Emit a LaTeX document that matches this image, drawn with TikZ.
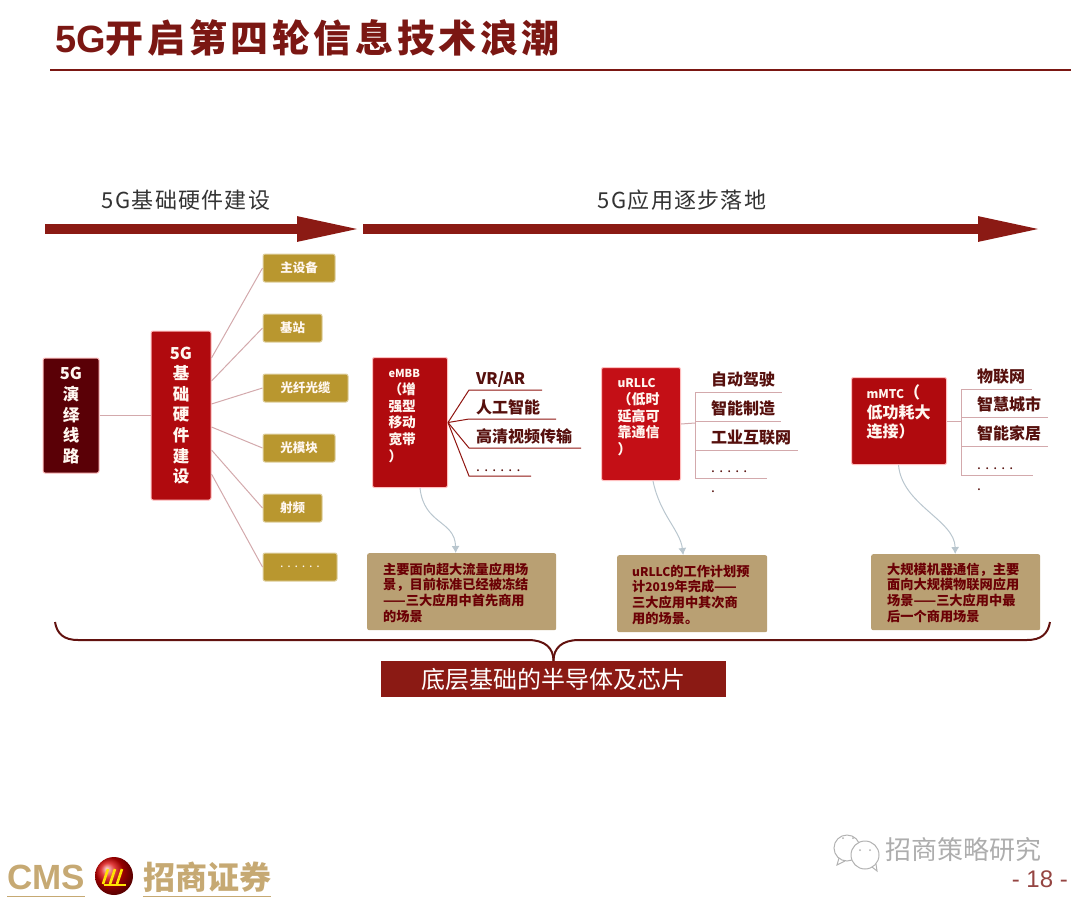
\documentclass[tikz,border=0pt]{standalone}
\usepackage{fontspec}
\setmainfont{Noto Sans CJK SC}
\newfontfamily\titlefont{Noto Sans CJK SC}[LetterSpace=9.5]
\newfontfamily\headfont{Noto Sans CJK SC}[LetterSpace=6]
\newfontfamily\arialfont{Liberation Sans}
\usetikzlibrary{positioning,arrows.meta}
\definecolor{darkred}{HTML}{7B1713}
\definecolor{arrowred}{HTML}{8B1A14}
\definecolor{wine}{HTML}{5A0006}
\definecolor{boxred}{HTML}{B00A0E}
\definecolor{brightred}{HTML}{C40F16}
\definecolor{gold}{HTML}{B9972F}
\definecolor{tan}{HTML}{B9A073}
\definecolor{logotan}{HTML}{C6A973}
\definecolor{linkpink}{HTML}{D3A9AC}
\definecolor{curvblue}{HTML}{B9C6CE}
\newcommand{\fs}[2]{\fontsize{#1}{#2}\selectfont}
\newcommand{\dotrow}[1]{\raisebox{-1.5pt}{\fs{14}{16}\mdseries #1}}

\begin{document}
\begin{tikzpicture}[x=1pt,y=-1pt,
  bigarr/.style={draw=arrowred, line width=10pt, -{Triangle[length=66pt,width=22.5pt]}},
  head/.style={font=\headfont\fs{22}{24}, text=black!80},
  box/.style={draw=red!25, line width=1pt, rounded corners=2pt, inner sep=0pt, text=white!94!orange},
  vbox/.style={box, align=center, font=\bfseries\fs{16.5}{20.6}},
  tagbox/.style={box, fill=boxred, align=left, font=\bfseries\fs{13.7}{16.8}, anchor=north west, inner xsep=16pt, inner ysep=7pt},
  goldbox/.style={box, fill=gold, minimum height=28pt, font=\bfseries\fs{12.5}{14}, draw=gold!45},
  notebox/.style={fill=tan, rounded corners=2pt, inner xsep=16pt, inner ysep=8pt, text height=13pt, text=wine!90!red, align=left,
                  font=\bfseries\fs{13.2}{15.6}, anchor=north west},
  item/.style={font=\bfseries\fs{16}{18}, text=darkred!70!black, text height=12pt, text depth=2pt,
               inner sep=0pt, anchor=west},
  link/.style={draw=linkpink, line width=1pt},
  fork/.style={draw=linkpink, line width=1pt},
  curv/.style={draw=curvblue, line width=1pt, -{Latex[length=7pt,width=8pt]}},
  brace/.style={draw=darkred!80!black, line width=2pt}]
\useasboundingbox (0,0) rectangle (1080,898);

\node[anchor=west, font=\bfseries\fs{38}{40}\titlefont, text=darkred, inner sep=0pt] (title) at (55,38)
  {{\arialfont\bfseries 5G}开启第四轮信息技术浪潮};
\coordinate (ruleL) at (50,70);
\coordinate (ruleR) at (1071,70);
\draw[darkred, line width=1.6pt] (ruleL) -- (ruleR);

\coordinate (arrA) at (45,229);
\coordinate (arrB) at (363,229);
\coordinate (arrC) at (363,229);
\coordinate (arrD) at (1044,229);
\draw[bigarr] (arrA) -- (arrB);
\draw[bigarr] (arrC) -- (arrD);
\node[head] (hardhead) at (186,200) {5G基础硬件建设};
\node[head] (apphead) at (682,200) {5G应用逐步落地};

\node[vbox, fill=wine, minimum width=56pt, minimum height=115pt] (road) at (71,415.5)
  {5G\\演\\绎\\线\\路};
\node[vbox, fill=boxred, minimum width=60pt, minimum height=169pt, right=51pt of road] (hard)
  {5G\\基\\础\\硬\\件\\建\\设};
\draw[link] (road) -- (hard);

\node[goldbox, minimum width=72pt] (gear) at (299,268) {主设备};
\node[goldbox, minimum width=59pt, below=31pt of gear.south west, anchor=north west] (station) {基站};
\node[goldbox, minimum width=85pt, below=31pt of station.south west, anchor=north west] (fiber) {光纤光缆};
\node[goldbox, minimum width=72pt, below=31pt of fiber.south west, anchor=north west] (module) {光模块};
\node[goldbox, minimum width=59pt, below=31pt of module.south west, anchor=north west] (radio) {射频};
\node[goldbox, minimum width=74pt, below=30pt of radio.south west, anchor=north west] (more) {\mdseries . . . . . .};
\draw[link] (hard.east |- 0,358) -- (gear.west);
\draw[link] (hard.east |- 0,381) -- (station.west);
\draw[link] (hard.east |- 0,404) -- (fiber.west);
\draw[link] (hard.east |- 0,427) -- (module.west);
\draw[link] (hard.east |- 0,450) -- (radio.west);
\draw[link] (hard.east |- 0,474) -- (more.west);

\node[tagbox, text width=43pt, text height=13pt, text depth=103pt] (embb) at (372,357)
  {{\fs{11}{16.8}eMBB}\\（增\\强型\\移动\\宽带\\）};
\foreach \nm/\yy/\xe/\txt in {vr/390/542/{VR/AR},ai/419/556/人工智能,hd/448/581/高清视频传输,edots/476/531/{\dotrow{. . . . . .}}}{
  \node[item] (\nm) at (476,\yy-11) {\txt};
  \coordinate (\nm e) at (\xe,\yy);
  \coordinate (\nm k) at (469,\yy);
  \draw[draw=darkred!85!red, line width=1pt] (embb.east) -- (\nm k) -- (\nm e);
}

\node[tagbox, fill=brightred, text width=47pt, text height=13pt, text depth=86pt, font=\bfseries\fs{14}{16.8}] (urllc) at (601,367)
  {{\fs{12}{16.8}uRLLC}\\（低时\\延高可\\靠通信\\）};
\coordinate (ufork) at (695,423);
\draw[fork] (urllc.east) -- (ufork);
\foreach \nm/\yy/\xe/\txt in {drive/392/782/自动驾驶,make/421/781/智能制造,net/450/798/工业互联网,udots/478/767/{\dotrow{. . . . .}}}{
  \node[item] (\nm) at (711,\yy-12) {\txt};
  \coordinate (\nm e) at (\xe,\yy);
  \draw[fork] (ufork |- \nm e) -- (\nm e);
}
\draw[fork] (ufork |- drivee) -- (ufork |- udotse);
\node[item] (udot) at (711,486) {\dotrow{.}};

\node[tagbox, text width=65pt, inner xsep=15pt, text height=14pt, text depth=59pt, font=\bfseries\fs{16}{19.5}] (mmtc) at (851,377)
  {{\fs{12}{19.5}mMTC}（\\低功耗大\\连接）};
\coordinate (mfork) at (961,421);
\draw[fork] (mmtc.east) -- (mfork);
\foreach \nm/\yy/\xe/\txt in {iot/389/1032/物联网,city/417/1048/智慧城市,home/446/1048/智能家居,mdots/475/1033/{\dotrow{. . . . .}}}{
  \node[item] (\nm) at (977,\yy-12) {\txt};
  \coordinate (\nm e) at (\xe,\yy);
  \draw[fork] (mfork |- \nm e) -- (\nm e);
}
\draw[fork] (mfork |- iote) -- (mfork |- mdotse);
\node[item] (mdot) at (977,484) {\dotrow{.}};

\node[notebox, text width=157pt, text depth=48pt] (embbnote) at (367,553)
  {主要面向超大流量应用场\\景，目前标准已经被冻结\\——三大应用中首先商用\\的场景};
\node[notebox, text width=120pt, inner xsep=15pt, text depth=48pt] (urllcnote) at (617,555)
  {{\fs{12}{15.6}uRLLC}的工作计划预\\计{\fs{12}{15.6}2019}年完成——\\三大应用中其次商\\用的场景。};
\node[notebox, text width=137pt, inner ysep=7pt, text depth=49pt] (mmtcnote) at (871,554)
  {大规模机器通信，主要\\面向大规模物联网应用\\场景——三大应用中最\\后一个商用场景};
\draw[curv] ([xshift=10pt]embb.south) .. controls (424,525) and (455,520) .. ([xshift=-6pt]embbnote.north);
\draw[curv] ([xshift=12pt]urllc.south) .. controls (660,515) and (680,530) .. ([xshift=-9pt]urllcnote.north);
\draw[curv] ([xshift=-0.5pt]mmtc.south) .. controls (902,505) and (955,520) .. ([xshift=-0.5pt]mmtcnote.north);

\node[fill=arrowred, minimum width=345pt, minimum height=36pt, inner sep=0pt, text=white,
      font=\fs{24}{26}] (chip) at (553.5,679) {底层基础的半导体及芯片};
\coordinate (braceL) at (55,622);
\coordinate (braceR) at (1050,622);
\draw[brace] (braceL) .. controls (57,634) and (64,640) .. (78,640) -- (528,640)
  .. controls (545,640) and (553.5,648) .. (chip.north);
\draw[brace] (braceR) .. controls (1048,634) and (1041,640) .. (1027,640) -- (579,640)
  .. controls (562,640) and (553.5,648) .. (chip.north);

\node[anchor=west, inner sep=0pt, font=\arialfont\bfseries\fs{35}{38}, text=logotan] (cms) at (7,877) {CMS};
\node[anchor=west, inner sep=0pt, font=\bfseries\fs{32}{34}, text=logotan] (cmsname) at (143,877) {招商证券};
\draw[logotan, line width=1.6pt] (cms.west |- 0,896.5) -- (cms.east |- 0,896.5);
\draw[logotan, line width=1.6pt] (cmsname.west |- 0,896.5) -- (cmsname.east |- 0,896.5);
\shade[ball color=red!85!black] (114,876) circle (19);
\draw[yellow!85!orange, line width=2.6pt] (108,869) -- (103,884) (115,869) -- (110,884) (122,869) -- (117,884);
\draw[yellow!85!orange, line width=1.6pt] (104,885) -- (126,885);

\draw[black!30, line width=1pt] (847,848) circle (13);
\draw[black!30, line width=1pt] (839,858) -- (837,865) -- (845,861);
\draw[black!30, line width=1pt, fill=white] (865,855) circle (14);
\draw[black!30, line width=1pt] (872,867) -- (877,871) -- (876,864);
\fill[black!30] (843,838) circle (1) (853,838) circle (1) (860,850) circle (1) (870,850) circle (1);
\node[anchor=west, inner sep=0pt, font=\fs{26}{28}, text=black!32] (wechat) at (885,850) {招商策略研究};
\node[anchor=east, inner sep=0pt, font=\arialfont\fs{24}{26}, text=darkred!80] (page) at (1068,879) {- 18 -};
\end{tikzpicture}
\end{document}
